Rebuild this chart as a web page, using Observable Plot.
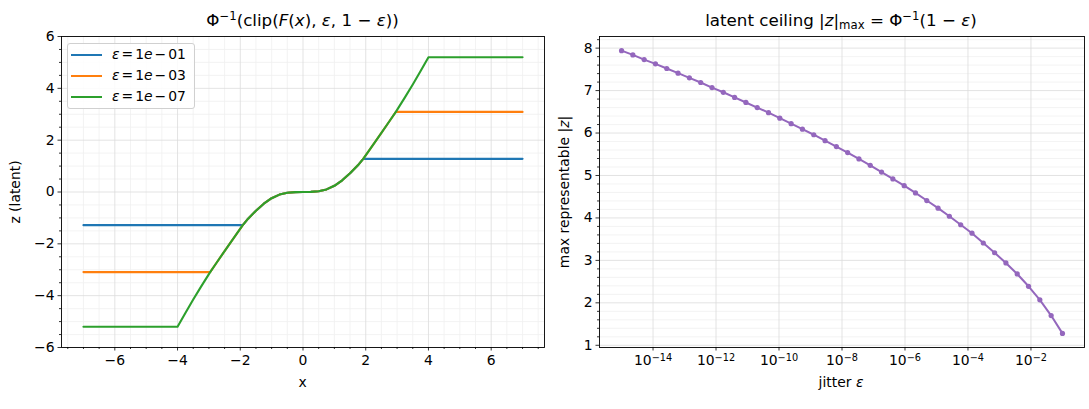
<!DOCTYPE html>
<html><head><meta charset="utf-8">
<script src="https://cdn.jsdelivr.net/npm/d3@7"></script>
<script src="https://cdn.jsdelivr.net/npm/@observablehq/plot@0.6"></script>
<style>
body{margin:0;background:#fff;font-family:"DejaVu Sans",sans-serif;}
#fig{position:relative;width:1089px;height:409px;overflow:hidden;background:#fff;}
#fig svg{position:absolute;top:0;}
.t{position:absolute;white-space:nowrap;color:#000;font-family:"DejaVu Sans",sans-serif;line-height:1;}
.sup{font-size:70%;position:relative;top:-0.55em;}
.sub{font-size:70%;position:relative;top:0.25em;}
.op{margin:0 2px;}
.legend{position:absolute;left:67px;top:43px;width:128px;height:66px;border:1px solid #d0d0d0;border-radius:3px;background:rgba(255,255,255,0.85);box-sizing:border-box;}
.lgline{position:absolute;height:2px;width:31px;}
</style></head><body><div id="fig"></div>
<script>
// ---------- data: left panel ----------
const xGrid = [-7, -4, -3.75, -3.5, -3.25, -2.96, -2.75, -2.5, -2.25, -1.92, -1.75, -1.5, -1.25, -1, -0.75, -0.5, -0.25, 0, 0.25, 0.5, 0.75, 1, 1.25, 1.5, 1.75, 1.92, 2.25, 2.5, 2.75, 2.96, 3.25, 3.5, 3.75, 4, 7];
const zEps1e01 = [-1.28,-1.28,-1.28,-1.28,-1.28,-1.28,-1.28,-1.28,-1.28,-1.28,-1.03,-0.72,-0.45,-0.24,-0.10,-0.03,-0.005,0,0.005,0.03,0.10,0.24,0.45,0.72,1.03,1.28,1.28,1.28,1.28,1.28,1.28,1.28,1.28,1.28,1.28];
const zEps1e03 = [-3.09,-3.09,-3.09,-3.09,-3.09,-3.09,-2.72,-2.28,-1.85,-1.28,-1.03,-0.72,-0.45,-0.24,-0.10,-0.03,-0.005,0,0.005,0.03,0.10,0.24,0.45,0.72,1.03,1.28,1.85,2.28,2.72,3.09,3.09,3.09,3.09,3.09,3.09];
const zEps1e07 = [-5.2,-5.2,-4.67,-4.15,-3.65,-3.09,-2.72,-2.28,-1.85,-1.28,-1.03,-0.72,-0.45,-0.24,-0.10,-0.03,-0.005,0,0.005,0.03,0.10,0.24,0.45,0.72,1.03,1.28,1.85,2.28,2.72,3.09,3.65,4.15,4.67,5.2,5.2];
const seriesExps = ["01", "03", "07"];
const seriesColors = ["#1f77b4", "#ff7f0e", "#2ca02c"];
const leftXTicks = [-6, -4, -2, 0, 2, 4, 6];
const leftYTicks = [-6, -4, -2, 0, 2, 4, 6];

// ---------- data: right panel ----------
const jitterExp = [-15, -14.641, -14.282, -13.923, -13.564, -13.205, -12.846, -12.487, -12.128, -11.769, -11.410, -11.051, -10.692, -10.333, -9.974, -9.615, -9.256, -8.897, -8.538, -8.179, -7.821, -7.462, -7.103, -6.744, -6.385, -6.026, -5.667, -5.308, -4.949, -4.590, -4.231, -3.872, -3.513, -3.154, -2.795, -2.436, -2.077, -1.718, -1.359, -1];
const zMax = [7.94, 7.84, 7.73, 7.63, 7.52, 7.41, 7.30, 7.19, 7.07, 6.96, 6.84, 6.72, 6.60, 6.48, 6.35, 6.22, 6.09, 5.96, 5.82, 5.68, 5.54, 5.39, 5.24, 5.08, 4.92, 4.76, 4.59, 4.41, 4.23, 4.04, 3.84, 3.64, 3.41, 3.18, 2.94, 2.68, 2.39, 2.07, 1.70, 1.28];
const rightXTickExps = [-14, -12, -10, -8, -6, -4, -2];
const rightYTicks = [1, 2, 3, 4, 5, 6, 7, 8];

// ---------- build ----------
const fig = document.getElementById("fig");
const FS = 13.9;
const majorGrid = "#dcdcdc", minorGrid = "#f0f0f0";
const range = (a, b, s) => { const r = []; for (let v = a; v <= b + 1e-9; v += s) r.push(+v.toFixed(4)); return r; };

const leftMinorX = range(-7.5, 7.5, 0.5).filter(v => !leftXTicks.includes(v));
const leftMinorY = range(-6, 6, 0.5).filter(v => !leftYTicks.includes(v));
const seriesZ = [zEps1e01, zEps1e03, zEps1e07];

const leftMarks = [
  Plot.ruleX(leftMinorX, {stroke: minorGrid, strokeWidth: 0.8}),
  Plot.ruleY(leftMinorY, {stroke: minorGrid, strokeWidth: 0.8}),
  Plot.ruleX(leftXTicks, {stroke: majorGrid, strokeWidth: 0.8}),
  Plot.ruleY(leftYTicks, {stroke: majorGrid, strokeWidth: 0.8}),
];
seriesZ.forEach((zs, i) => {
  const rows = xGrid.map((x, j) => ({x, z: zs[j]}));
  leftMarks.push(Plot.line(rows, {x: "x", y: "z", stroke: seriesColors[i], strokeWidth: 2.1}));
});
leftMarks.push(
  Plot.frame({stroke: "black", strokeWidth: 0.9}),
  Plot.axisX(leftMinorX, {tickSize: 2, tickFormat: () => "", label: null, strokeWidth: 0.8}),
  Plot.axisY(leftMinorY, {tickSize: 2, tickFormat: () => "", label: null, strokeWidth: 0.8}),
  Plot.axisX(leftXTicks, {tickSize: 3.5, tickPadding: 4.5, label: null, strokeWidth: 0.8, fontSize: FS}),
  Plot.axisY(leftYTicks, {tickSize: 3.5, tickPadding: 3.5, label: null, strokeWidth: 0.8, fontSize: FS})
);

const left = Plot.plot({
  width: 545, height: 409,
  marginLeft: 61, marginRight: 1, marginTop: 36, marginBottom: 62,
  x: {domain: [-7.7, 7.7], label: null},
  y: {domain: [-6, 6], label: null},
  style: {fontFamily: "DejaVu Sans", fontSize: FS + "px", color: "black", background: "transparent", overflow: "visible"},
  marks: leftMarks
});
left.style.left = "0px";
fig.appendChild(left);

// right panel
const jitterRows = jitterExp.map((e, i) => ({eps: Math.pow(10, e), z: zMax[i]}));
const rightXTicks = rightXTickExps.map(e => Math.pow(10, e));
const rightMinorY = range(1, 8.2, 0.2).filter(v => !rightYTicks.includes(Math.round(v * 1000) / 1000));
const right = Plot.plot({
  width: 544, height: 409,
  marginLeft: 54, marginRight: 5, marginTop: 36, marginBottom: 62,
  x: {type: "log", domain: [Math.pow(10, -15.7), Math.pow(10, -0.3)], label: null},
  y: {domain: [0.948, 8.274], label: null},
  style: {fontFamily: "DejaVu Sans", fontSize: FS + "px", color: "black", background: "transparent", overflow: "visible"},
  marks: [
    Plot.ruleY(rightMinorY, {stroke: minorGrid, strokeWidth: 0.8}),
    Plot.ruleY(rightYTicks, {stroke: majorGrid, strokeWidth: 0.8}),
    Plot.ruleX(rightXTicks, {stroke: majorGrid, strokeWidth: 0.8}),
    Plot.line(jitterRows, {x: "eps", y: "z", stroke: "#9467bd", strokeWidth: 2}),
    Plot.dot(jitterRows, {x: "eps", y: "z", fill: "#9467bd", r: 2.6}),
    Plot.frame({stroke: "black", strokeWidth: 0.9}),
    Plot.axisY(rightMinorY, {tickSize: 2, tickFormat: () => "", label: null, strokeWidth: 0.8}),
    Plot.axisX(rightXTicks, {tickSize: 3.5, tickPadding: 4.5, label: null, strokeWidth: 0.8, fontSize: FS,
      tickFormat: d => "10^" + String(Math.round(Math.log10(d))).replace("-", "−")}),
    Plot.axisY(rightYTicks, {tickSize: 3.5, tickPadding: 3.5, label: null, strokeWidth: 0.8, fontSize: FS})
  ]
});
right.style.left = "545px";
fig.appendChild(right);

// superscript tick labels
d3.select(right).selectAll("text").each(function() {
  const m = /^10\^(.+)$/.exec(this.textContent);
  if (m) {
    const el = d3.select(this);
    el.text("10");
    el.append("tspan").attr("dy", "-0.5em").attr("font-size", "0.7em").text(m[1]);
  }
});

// ---------- text overlays ----------
function addText(html, x, y, opts = {}) {
  const d = document.createElement("div");
  d.className = "t";
  d.innerHTML = html;
  d.style.fontSize = (opts.size || FS) + "px";
  d.style.left = x + "px";
  d.style.top = y + "px";
  d.style.transform = opts.rotate ? "translate(-50%,-50%) rotate(-90deg)" : "translate(-50%,-50%)";
  fig.appendChild(d);
  return d;
}
addText('Φ<span class="sup">−1</span>(clip(<i>F</i>(<i>x</i>), <i>ε</i>, 1 − <i>ε</i>))', 302.5, 20, {size: 16.7});
addText('latent ceiling |<i>z</i>|<span class="sub">max</span> = Φ<span class="sup">−1</span>(1 − <i>ε</i>)', 841, 20, {size: 16.7});
addText('x', 302.5, 383);
addText('jitter <i>ε</i>', 841, 383);
addText('z (latent)', 16, 191.5, {rotate: true});
addText('max representable |<i>z</i>|', 565, 191.5, {rotate: true});

// legend
const lg = document.createElement("div");
lg.className = "legend";
fig.appendChild(lg);
seriesExps.forEach((ex, i) => {
  const yc = 54.7 + i * 21.3;
  const ln = document.createElement("div");
  ln.className = "lgline";
  ln.style.left = "71px";
  ln.style.top = (yc - 1) + "px";
  ln.style.background = seriesColors[i];
  fig.appendChild(ln);
  const t = document.createElement("div");
  t.className = "t";
  t.style.fontSize = FS + "px";
  t.style.left = "112px";
  t.style.top = (yc - 7) + "px";
  t.innerHTML = '<i>ε</i><span class="op">=</span>1<i>e</i><span class="op">−</span>' + ex;
  fig.appendChild(t);
});
</script></body></html>
